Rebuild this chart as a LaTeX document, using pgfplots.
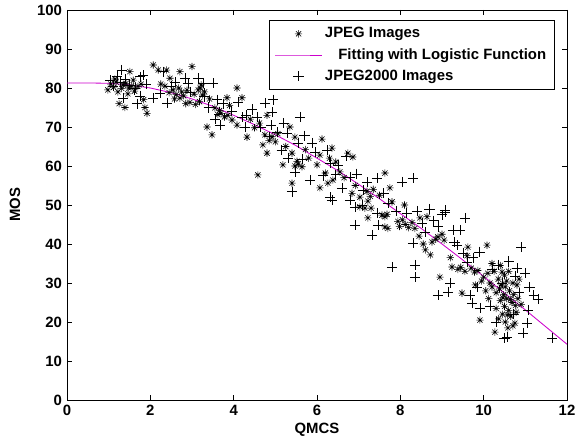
\documentclass[border=0pt]{standalone}
\usepackage{fontspec}
\setmainfont{Liberation Sans}
\usepackage{pgfplots}
\pgfplotsset{compat=1.18}
\definecolor{fitmag}{RGB}{204,0,204}
% MATLAB-like asterisk: plus and cross laid over each other
\pgfdeclareplotmark{mstar}{%
  \pgfpathmoveto{\pgfqpoint{-\pgfplotmarksize}{0pt}}\pgfpathlineto{\pgfqpoint{\pgfplotmarksize}{0pt}}%
  \pgfpathmoveto{\pgfqpoint{0pt}{-\pgfplotmarksize}}\pgfpathlineto{\pgfqpoint{0pt}{\pgfplotmarksize}}%
  \pgfpathmoveto{\pgfqpoint{-.707\pgfplotmarksize}{-.707\pgfplotmarksize}}\pgfpathlineto{\pgfqpoint{.707\pgfplotmarksize}{.707\pgfplotmarksize}}%
  \pgfpathmoveto{\pgfqpoint{-.707\pgfplotmarksize}{.707\pgfplotmarksize}}\pgfpathlineto{\pgfqpoint{.707\pgfplotmarksize}{-.707\pgfplotmarksize}}%
  \pgfusepathqstroke}
\newcommand{\lblfont}{\fontsize{10.6}{12.7}\selectfont\bfseries}
\begin{document}
\begin{tikzpicture}
\begin{axis}[
    scale only axis,
    width=12.5cm,
    height=9.75cm,
    xmin=0, xmax=12,
    ymin=0, ymax=100,
    xtick={0,2,...,12},
    ytick={0,10,...,100},
    tick align=inside,
    major tick length=3.5pt,
    tick style={black, line width=0.4pt},
    axis line style={line width=0.6pt},
    font=\lblfont,
    /pgf/number format/assume math mode=true,
    xlabel={QMCS},
    ylabel={MOS},
    xlabel style={at={(axis description cs:0.5,-0.077)}, anchor=center},
    ylabel style={at={(axis description cs:-0.104,0.5)}, anchor=center},
    legend cell align=left,
    legend image code/.code={\draw[mark repeat=2, mark phase=2, #1]
        plot coordinates {(0cm,0cm) (0.58cm,0cm) (1.16cm,0cm)};},
    legend style={at={(0.976,0.974)}, anchor=north east, draw=black,
        line width=0.6pt, font=\lblfont, row sep=2pt,
        inner xsep=4pt, inner ysep=3pt,
        nodes={inner xsep=2pt}},
]
% JPEG images
\addplot[only marks, mark=mstar, mark size=2.6pt, line width=0.4pt] coordinates {
(0.98,79.5)(1.05,81.0)(1.12,80.2)(1.18,81.5)(1.22,79.0)(1.25,76.0)(1.31,79.9)(1.35,80.8)
(1.39,75.0)(1.42,81.2)(1.46,78.5)(1.51,84.2)(1.55,80.5)(1.59,82.0)(1.62,79.2)(1.70,80.4)
(1.78,81.0)(1.87,75.0)(1.92,73.5)(1.84,77.0)(1.15,82.3)(1.48,80.0)
(2.07,85.9)(2.19,84.6)(2.39,84.6)(2.47,82.5)(2.71,84.2)(3.00,85.5)(2.55,79.5)(2.62,78.3)
(2.68,80.0)(2.75,79.0)(2.80,78.0)(2.71,77.4)(2.85,76.0)(2.95,76.3)(3.08,75.8)(2.35,80.5)
(2.45,78.8)(2.88,79.4)(2.25,81.0)(2.58,77.2)(3.05,78.4)
(3.15,79.5)(3.20,80.0)(3.25,78.2)(3.30,79.0)(3.18,76.5)(3.36,70.0)(3.48,68.0)(3.55,74.9)
(3.62,73.2)(3.70,73.5)(3.78,72.6)(3.86,73.0)(3.84,77.5)(3.96,71.8)(4.08,80.0)(4.08,70.5)
(4.20,77.5)(4.32,67.4)(3.42,77.2)(3.90,75.5)(3.22,80.8)(3.66,74.2)
(4.58,57.7)(4.70,65.4)(4.80,63.3)(4.80,73.0)(4.75,68.0)(4.85,66.5)(4.92,67.5)(5.00,66.2)
(5.06,68.3)(4.50,69.8)(4.62,71.0)(4.40,72.0)
(5.18,60.3)(5.35,70.0)(5.47,67.4)(5.40,63.3)(5.47,60.0)(5.55,60.5)(5.64,59.8)(5.40,55.6)
(5.52,61.2)(6.00,60.3)(6.07,62.8)(6.12,66.9)(5.72,64.2)(5.80,62.0)(5.25,65.0)
(6.36,64.6)(6.74,63.3)(6.86,62.3)(6.55,58.5)(6.07,54.4)(6.26,55.6)(6.38,56.4)(6.84,53.0)
(7.03,52.0)(7.03,49.5)(6.20,58.2)(6.45,61.0)(6.65,57.0)(6.92,55.0)(6.30,62.0)
(7.20,53.5)(7.28,52.2)(7.35,54.0)(7.22,51.0)(7.15,49.2)(7.30,49.2)(7.22,46.7)
(7.56,47.4)(7.63,47.0)(7.68,47.6)(7.63,58.2)(7.75,54.4)(7.80,50.8)(7.63,44.4)(7.70,44.0)
(7.94,45.8)(7.98,44.5)(7.50,52.5)
(8.10,50.0)(8.05,46.2)(8.12,45.0)(8.20,44.2)(8.28,45.5)(8.35,44.0)(8.47,46.7)(8.64,47.0)
(8.76,40.5)(8.55,40.0)(8.60,38.5)(8.72,37.2)(8.85,41.2)(8.95,31.5)(8.90,41.8)(9.00,42.5)
(9.05,41.0)(8.45,42.0)
(9.24,34.1)(9.38,33.5)(9.45,34.0)(9.55,33.0)(9.62,39.2)(9.70,33.8)(9.78,32.8)(9.86,33.2)
(9.48,27.4)(9.91,20.5)(10.08,39.7)(9.95,30.5)(9.20,36.5)(9.60,37.0)(9.80,29.5)
(10.00,31.5)(10.05,28.0)(10.10,32.5)(10.15,30.0)(10.20,29.0)(10.25,33.0)(10.27,17.4)
(10.30,27.5)(10.35,31.0)(10.40,25.5)(10.42,29.5)(10.45,22.0)(10.48,27.0)(10.50,24.0)
(10.50,32.0)(10.52,20.0)(10.55,26.0)(10.55,30.5)(10.58,18.5)(10.60,23.0)(10.62,28.0)
(10.65,21.5)(10.68,25.0)(10.70,30.0)(10.72,27.0)(10.75,19.7)(10.78,22.5)(10.80,29.5)
(10.82,26.0)(10.85,31.0)(10.90,24.5)(10.40,34.5)(10.30,23.5)(10.60,33.0)(10.20,35.0)
(10.12,26.0)(10.38,28.5)(10.46,26.2)(10.57,21.8)(10.64,25.8)(10.70,19.0)(10.52,29.0)
(10.36,20.8)(10.76,24.2)(10.44,32.8)
};
\addlegendentry{JPEG Images}
% logistic fit
\addplot[fitmag, line width=0.6pt, no marks] coordinates {
(0,81.3)(0.5,81.3)(1,81.2)(1.5,80.8)(2,80.0)(2.5,78.8)(3,77.2)(3.5,75.3)(4,73.0)
(4.5,70.6)(5,68.0)(5.5,65.2)(6,62.0)(6.5,58.8)(7,55.3)(7.5,51.6)(8,47.8)(8.5,44.0)
(9,40.0)(9.5,35.9)(10,31.7)(10.5,27.4)(11,23.1)(11.5,18.7)(12,14.3)
};
\addlegendentry{\hspace{0.9em}Fitting with Logistic Function}
% JPEG2000 images
\addplot[only marks, mark=+, mark size=3.6pt, line width=0.4pt] coordinates {
(1.03,82.0)(1.20,83.0)(1.31,84.6)(1.28,81.5)(1.40,82.2)(1.63,80.0)(1.35,77.4)(1.68,76.0)
(1.75,78.0)(1.75,82.9)(1.83,83.3)(1.50,80.8)(1.90,81.0)(1.10,80.5)
(2.30,84.2)(2.83,82.5)(2.23,78.7)(2.07,77.4)(2.50,80.5)(2.60,81.5)(2.95,79.0)(2.40,76.2)
(2.90,81.2)
(3.27,81.2)(3.50,81.2)(3.60,77.0)(3.67,70.5)(3.40,75.0)(3.75,76.0)(3.55,72.0)(3.30,77.8)
(3.95,74.0)(3.15,82.5)
(4.10,76.4)(4.27,70.0)(4.56,72.6)(4.75,76.1)(4.94,77.0)(4.92,73.8)(4.45,74.5)(4.30,73.0)
(4.65,70.0)(4.90,70.5)(4.20,72.5)(4.85,67.5)
(5.04,68.7)(5.28,68.4)(5.59,72.6)(5.54,65.9)(5.88,65.9)(5.47,58.5)(5.83,56.4)(5.40,53.4)
(5.70,67.8)(5.15,64.0)(5.30,62.0)(5.95,63.5)(5.65,61.8)(5.20,71.0)
(6.31,60.8)(6.50,60.3)(6.79,57.2)(6.60,54.4)(6.31,52.0)(6.36,51.3)(6.79,51.3)(6.91,49.5)
(6.91,44.9)(6.15,57.5)(6.70,62.5)(6.45,57.8)(6.25,64.0)(6.95,58.0)
(7.08,50.0)(7.44,56.9)(7.44,47.9)(7.46,44.9)(7.32,42.3)(7.80,34.1)(7.60,53.0)(7.20,55.8)
(7.90,48.5)(7.10,53.8)(7.70,50.5)
(8.04,55.9)(8.30,56.9)(8.52,45.4)(8.30,40.2)(8.35,34.6)(8.35,31.5)(9.07,48.2)(8.70,49.0)
(8.90,44.5)(8.15,48.0)(8.60,43.0)(8.80,46.0)(8.40,48.5)(9.00,47.5)
(9.07,48.7)(9.55,46.7)(9.26,43.6)(9.43,43.6)(9.36,39.7)(9.50,37.7)(9.60,35.4)(8.90,26.9)
(9.14,27.7)(9.67,26.9)(9.84,29.0)(9.72,24.9)(9.91,23.6)(9.30,40.5)(9.75,36.5)(9.20,30.0)
(9.90,38.0)
(10.34,34.6)(10.50,15.9)(10.90,39.2)(10.75,31.8)(11.10,29.0)(11.20,26.9)(11.30,25.9)
(10.95,17.2)(10.56,16.2)(11.64,15.9)(11.04,19.7)(11.06,23.1)(10.20,33.5)(10.60,35.5)
(10.45,30.0)(10.70,22.0)(10.85,27.5)(10.15,24.0)(10.30,20.0)(11.00,32.5)(10.80,33.8)
};
\addlegendentry{JPEG2000 Images}
\end{axis}
% fix the page to the reference's margins round the axis box
\path (-1.675cm,-1.0cm) rectangle (12.825cm,10.0cm);
\end{tikzpicture}
\end{document}
